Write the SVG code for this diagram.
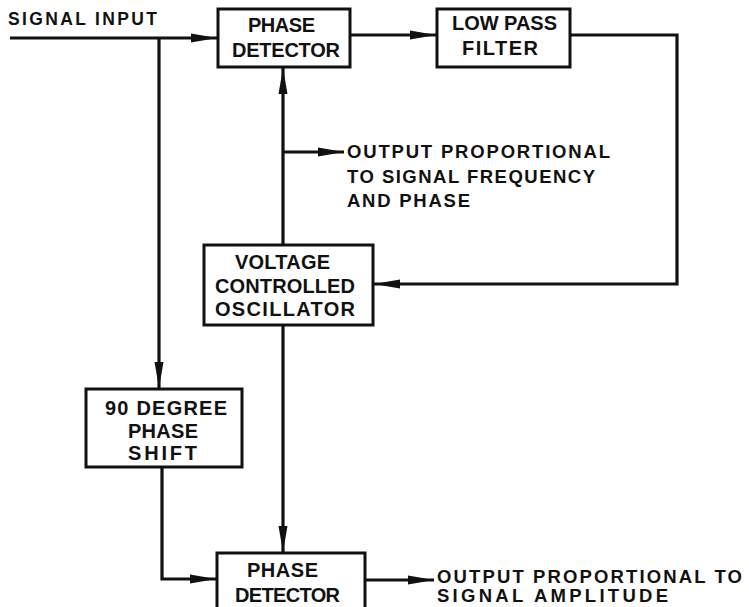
<svg xmlns="http://www.w3.org/2000/svg" width="749" height="607" viewBox="0 0 749 607">
  <style>
    .box { fill: #fff; stroke: #111; stroke-width: 3; }
    .conn { fill: none; stroke: #111; stroke-width: 3.2; stroke-linejoin: miter; }
    .t { font-family: "Liberation Sans", Arial, sans-serif; font-weight: bold; fill: #111; }
    .bt { font-size: 20px; }
    .lt { font-size: 18.5px; }
    .st { font-size: 17.5px; }
  </style>
  <defs>
    <marker id="arr" markerUnits="userSpaceOnUse" markerWidth="28" markerHeight="12" refX="26" refY="5" orient="auto">
      <path d="M0,0.5 L26,5 L0,9.5 Z" fill="#111"/>
    </marker>
  </defs>
  <rect width="749" height="607" fill="#fff"/>

  <g id="connectors">
    <path class="conn" d="M10,38 H217" marker-end="url(#arr)"/>
    <path class="conn" d="M159,38 V388" marker-end="url(#arr)"/>
    <path class="conn" d="M350,35 H436" marker-end="url(#arr)"/>
    <path class="conn" d="M570,35 H677 V284 H374" marker-end="url(#arr)"/>
    <path class="conn" d="M283,245 V68" marker-end="url(#arr)"/>
    <path class="conn" d="M283,152 H344" marker-end="url(#arr)"/>
    <path class="conn" d="M283,325 V552" marker-end="url(#arr)"/>
    <path class="conn" d="M162,467 V579 H216" marker-end="url(#arr)"/>
    <path class="conn" d="M365,580 H434" marker-end="url(#arr)"/>
  </g>

  <g id="label-signal-input">
    <text class="t st" x="8" y="25" textLength="149" lengthAdjust="spacing">SIGNAL INPUT</text>
  </g>

  <g id="phase-detector-top">
    <rect class="box" x="218" y="9" width="132" height="58"/>
    <text class="t bt" x="248" y="32" textLength="67" lengthAdjust="spacing">PHASE</text>
    <text class="t bt" x="232" y="57" textLength="108" lengthAdjust="spacing">DETECTOR</text>
  </g>

  <g id="low-pass-filter">
    <rect class="box" x="437" y="9" width="133" height="58"/>
    <text class="t bt" x="452" y="30" textLength="105" lengthAdjust="spacing">LOW PASS</text>
    <text class="t bt" x="462" y="55" textLength="76" lengthAdjust="spacing">FILTER</text>
  </g>

  <g id="label-output-frequency">
    <text class="t lt" x="347" y="158" textLength="263" lengthAdjust="spacing">OUTPUT PROPORTIONAL</text>
    <text class="t lt" x="347" y="183" textLength="248" lengthAdjust="spacing">TO SIGNAL FREQUENCY</text>
    <text class="t lt" x="347" y="207" textLength="123" lengthAdjust="spacing">AND PHASE</text>
  </g>

  <g id="vco">
    <rect class="box" x="204" y="245" width="169" height="80"/>
    <text class="t bt" x="235" y="269" textLength="95" lengthAdjust="spacing">VOLTAGE</text>
    <text class="t bt" x="215" y="293" textLength="140" lengthAdjust="spacing">CONTROLLED</text>
    <text class="t bt" x="215" y="316" textLength="140" lengthAdjust="spacing">OSCILLATOR</text>
  </g>

  <g id="phase-shift-90">
    <rect class="box" x="86" y="389" width="156" height="78"/>
    <text class="t bt" x="105" y="415" textLength="122" lengthAdjust="spacing">90 DEGREE</text>
    <text class="t bt" x="128" y="438" textLength="70" lengthAdjust="spacing">PHASE</text>
    <text class="t bt" x="128" y="460" textLength="69" lengthAdjust="spacing">SHIFT</text>
  </g>

  <g id="phase-detector-bottom">
    <rect class="box" x="217" y="553" width="148" height="70"/>
    <text class="t bt" x="247" y="577" textLength="71" lengthAdjust="spacing">PHASE</text>
    <text class="t bt" x="235" y="602" textLength="105" lengthAdjust="spacing">DETECTOR</text>
  </g>

  <g id="label-output-amplitude">
    <text class="t lt" x="437" y="583" textLength="305" lengthAdjust="spacing">OUTPUT PROPORTIONAL TO</text>
    <text class="t lt" x="437" y="602" textLength="231" lengthAdjust="spacing">SIGNAL AMPLITUDE</text>
  </g>
</svg>
